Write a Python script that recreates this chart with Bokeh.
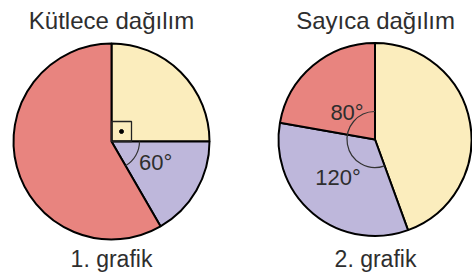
import math
from bokeh.plotting import figure
from bokeh.models import Range1d
from bokeh.embed import file_html
from bokeh.resources import INLINE
from bokeh.core.properties import value

# ---------------- data ----------------
titles = ["Kütlece dağılım", "Sayıca dağılım"]
captions = ["1. grafik", "2. grafik"]
# slices listed clockwise starting at 12 o'clock
left_slices = ["sarı", "mor", "kırmızı"]
left_deg = [90, 60, 210]
left_labels = ["", "60°", ""]
right_slices = ["sarı", "mor", "kırmızı"]
right_deg = [160, 120, 80]
right_labels = ["", "120°", "80°"]

# ---------------- style / layout ----------------
COLORS = {"sarı": "#FBEDBD", "mor": "#BEB7DB", "kırmızı": "#E8847F"}
TXT = "#2e2e2e"
FONT = value("Liberation Sans")
W, H = 472, 275


def Y(row):
    return H - row


p = figure(width=W, height=H, output_backend="svg", toolbar_location=None,
           x_range=Range1d(0, W), y_range=Range1d(0, H),
           min_border=0, outline_line_color=None)
p.axis.visible = False
p.grid.visible = False
p.background_fill_color = "white"
p.border_fill_color = "white"

# label anchors in polar form (radius px, angle deg) relative to the pie centre
pies = [
    dict(cx=111, cy=Y(141), r=98, names=left_slices, deg=left_deg, labels=left_labels,
         label_pos=[None, (49, -26), None], tx=111, title=titles[0], cap=captions[0]),
    dict(cx=374.5, cy=Y(139), r=96.5, names=right_slices, deg=right_deg, labels=right_labels,
         label_pos=[None, (52.8, 225.5), (39.1, 135.7)], tx=375, title=titles[1], cap=captions[1]),
]

for pie in pies:
    cx, cy, r = pie["cx"], pie["cy"], pie["r"]
    cum = 90.0
    starts, ends, cols = [], [], []
    for name, d in zip(pie["names"], pie["deg"]):
        end = cum
        start = cum - d
        starts.append(math.radians(start))
        ends.append(math.radians(end))
        cols.append(COLORS[name])
        cum = start
    n = len(cols)
    p.wedge(x=[cx] * n, y=[cy] * n, radius=r, start_angle=starts, end_angle=ends,
            fill_color=cols, line_color="black", line_width=2)
    # labels
    for lab, pos in zip(pie["labels"], pie["label_pos"]):
        if lab and pos:
            lr, la = pos
            a = math.radians(la)
            p.text(x=[cx + lr * math.cos(a)], y=[cy + lr * math.sin(a)], text=[lab],
                   text_font=FONT, text_font_size="22px", text_color=TXT,
                   text_align="center", text_baseline="middle")
    # titles / captions
    p.text(x=[pie["tx"]], y=[Y(20)], text=[pie["title"]], text_font=FONT,
           text_font_size="24px", text_color=TXT, text_align="center",
           text_baseline="alphabetic")
    p.text(x=[pie["tx"]], y=[Y(258)], text=[pie["cap"]], text_font=FONT,
           text_font_size="23px", text_color=TXT, text_align="center",
           text_baseline="alphabetic")

# angle arcs
lp, rp = pies
# left: 60 deg arc over the purple slice
p.arc(x=[lp["cx"]], y=[lp["cy"]], radius=28, start_angle=math.radians(90 - left_deg[0] - left_deg[1]),
      end_angle=math.radians(90 - left_deg[0]), line_color="#333333", line_width=1.2)
# left: right-angle marker for the yellow quarter
p.quad(left=[lp["cx"]], right=[lp["cx"] + 20], bottom=[lp["cy"]], top=[lp["cy"] + 20],
       fill_color=None, line_color="#222222", line_width=1.3)
p.scatter(x=[lp["cx"] + 10], y=[lp["cy"] + 10], size=4, color="black")
# right: arc over red + purple
p.arc(x=[rp["cx"]], y=[rp["cy"]], radius=28, start_angle=math.radians(90),
      end_angle=math.radians(90 + right_deg[2] + right_deg[1]), line_color="#333333", line_width=1.2)

open("out.html", "w").write(file_html(p, INLINE))
